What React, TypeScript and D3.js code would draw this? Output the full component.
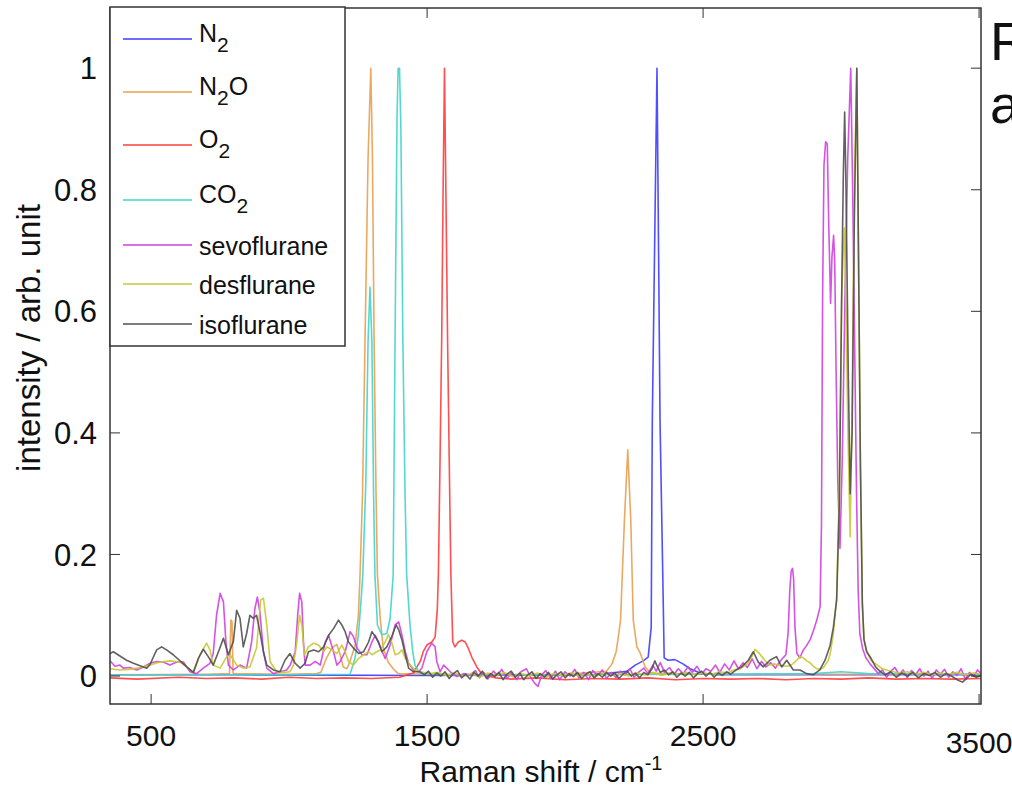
import React from "react";
import * as d3 from "d3";

type Pt = [number, number];

const X_DOMAIN: [number, number] = [351, 3507];
const Y_DOMAIN: [number, number] = [-0.046, 1.099];
const xTicks = [500, 1500, 2500, 3500];
const xTickLabels = ["500", "1500", "2500", "3500"];
const yTicks = [0, 0.2, 0.4, 0.6, 0.8, 1];
const yTickLabels = ["0", "0.2", "0.4", "0.6", "0.8", "1"];

const seriesKeys = ["N2", "N2O", "O2", "CO2", "sevoflurane", "desflurane", "isoflurane"];
// legend label parts: [main, subscript, after]
const legendParts: [string, string, string][] = [
  ["N", "2", ""],
  ["N", "2", "O"],
  ["O", "2", ""],
  ["CO", "2", ""],
  ["sevoflurane", "", ""],
  ["desflurane", "", ""],
  ["isoflurane", "", ""],
];
const seriesColors = ["#3c3cff", "#e8a050", "#ff3c3c", "#40d4cc", "#d040e0", "#c8c832", "#505050"];

const N2: Pt[] = [[351,0.002],[800,0.002],[1500,0.001],[2100,0.002],[2225,0.008],[2254,0.018],[2283,0.025],[2301,0.031],[2312,0.08],[2316,0.42],[2333,1.0],[2344,0.42],[2353,0.19],[2359,0.03],[2373,0.026],[2398,0.027],[2427,0.02],[2453,0.012],[2489,0.005],[2550,0.002],[3000,0.002],[3507,0.002]];

const N2O: Pt[] = [[351,0.002],[700,0.003],[784,0.004],[789,0.092],[793,0.09],[797,0.004],[1000,0.003],[1100,0.004],[1115,0.006],[1136,0.03],[1155,0.046],[1173,0.052],[1185,0.035],[1196,0.015],[1210,0.012],[1221,0.025],[1239,0.05],[1251,0.1],[1257,0.166],[1266,0.3],[1275,0.55],[1286,0.85],[1296,1.0],[1302,0.85],[1308,0.55],[1315,0.3],[1320,0.166],[1330,0.095],[1341,0.046],[1359,0.023],[1377,0.012],[1395,0.004],[1600,0.002],[2000,0.003],[2150,0.008],[2170,0.02],[2185,0.04],[2193,0.065],[2201,0.092],[2215,0.257],[2227,0.372],[2238,0.257],[2247,0.092],[2260,0.048],[2272,0.038],[2290,0.015],[2310,0.005],[2500,0.003],[3000,0.003],[3507,0.003]];

const O2: Pt[] = [[351,-0.003],[450,-0.005],[600,-0.002],[700,-0.004],[800,-0.003],[900,-0.005],[1000,-0.002],[1100,-0.004],[1200,-0.003],[1300,-0.004],[1400,-0.002],[1450,0.005],[1475,0.024],[1486,0.04],[1499,0.051],[1517,0.056],[1529,0.064],[1537,0.11],[1541,0.17],[1547,0.36],[1553,0.56],[1558,0.8],[1563,1.0],[1568,0.8],[1574,0.56],[1580,0.36],[1586,0.17],[1593,0.056],[1601,0.048],[1613,0.056],[1626,0.059],[1638,0.056],[1650,0.045],[1663,0.03],[1680,0.015],[1700,0.002],[1750,-0.003],[1800,-0.005],[1900,-0.003],[2000,-0.006],[2100,-0.004],[2200,-0.005],[2300,-0.003],[2400,-0.006],[2500,-0.004],[2600,-0.005],[2700,-0.004],[2800,-0.006],[2900,-0.004],[3000,-0.005],[3100,-0.003],[3200,-0.005],[3300,-0.004],[3400,-0.005],[3507,-0.004]];

const CO2: Pt[] = [[351,0.002],[700,0.002],[1000,0.002],[1221,0.003],[1239,0.03],[1251,0.068],[1260,0.12],[1267,0.166],[1278,0.32],[1286,0.55],[1293,0.64],[1300,0.55],[1306,0.3],[1311,0.166],[1320,0.084],[1336,0.068],[1354,0.07],[1366,0.095],[1377,0.166],[1384,0.56],[1391,0.92],[1395,1.0],[1400,1.0],[1405,0.9],[1412,0.56],[1420,0.3],[1426,0.166],[1438,0.084],[1448,0.04],[1456,0.018],[1475,0.004],[1600,0.002],[2000,0.002],[2500,0.003],[2900,0.004],[3000,0.007],[3100,0.004],[3507,0.003]];

const SEVO: Pt[] = [[351,0.025],[369,0.016],[387,0.018],[399,0.013],[423,0.014],[448,0.010],[472,0.015],[496,0.021],[520,0.024],[544,0.023],[568,0.018],[593,0.023],[617,0.023],[641,0.007],[665,0.004],[689,0.013],[713,0.021],[725,0.037],[737,0.1],[750,0.136],[762,0.122],[771,0.056],[780,0.018],[798,0.01],[822,0.018],[846,0.013],[864,0.056],[876,0.111],[885,0.13],[894,0.106],[907,0.04],[919,0.013],[943,0.004],[967,0.007],[991,0.01],[1004,0.018],[1022,0.04],[1031,0.1],[1038,0.136],[1046,0.122],[1052,0.056],[1058,0.018],[1076,0.018],[1095,0.024],[1113,0.018],[1131,0.056],[1143,0.067],[1161,0.04],[1173,0.018],[1185,0.024],[1203,0.04],[1221,0.073],[1233,0.065],[1246,0.046],[1264,0.035],[1282,0.035],[1300,0.056],[1312,0.067],[1330,0.048],[1348,0.029],[1366,0.051],[1384,0.084],[1397,0.089],[1409,0.067],[1421,0.04],[1433,0.021],[1451,0.01],[1469,0.007],[1481,0.013],[1499,0.04],[1517,0.054],[1529,0.048],[1535,0.024],[1547,0.007],[1560,0.018],[1584,0.007],[1608,-0.001],[1632,0.004],[1656,0.002],
[1675,0.009],[1690,-0.003],[1705,0.006],[1720,-0.005],[1740,0.008],[1755,0.001],[1770,0.011],[1790,-0.004],[1805,0.005],[1825,-0.006],[1840,0.007],[1860,0.012],[1875,-0.002],[1890,-0.012],[1902,-0.017],[1915,0.002],[1930,0.009],[1948,-0.004],[1965,0.008],[1980,-0.006],[2000,0.007],[2018,0.0],[2035,0.011],[2050,-0.003],[2068,0.006],[2085,-0.006],[2100,0.009],[2118,0.001],[2135,0.01],[2150,-0.004],[2168,0.006],[2185,-0.003],[2200,0.008],[2218,0.002],[2235,0.012],[2250,-0.002],[2268,0.007],[2285,0.013],[2300,0.004],[2318,0.018],[2330,0.008],[2345,0.022],[2360,0.006],[2378,0.014],[2395,0.003],[2410,0.012],[2428,0.004],[2445,0.015],[2460,0.006],[2478,0.016],[2495,0.003],[2510,0.012],[2528,0.008],[2545,0.018],[2560,0.006],[2578,0.02],[2595,0.01],[2612,0.025],[2628,0.012],[2645,0.022],[2660,0.014],[2678,0.028],[2695,0.012],[2712,0.024],[2728,0.015],[2745,0.022],[2762,0.013],[2778,0.024],[2790,0.03],
[2800,0.035],[2808,0.07],[2814,0.14],[2819,0.172],[2824,0.177],[2828,0.16],[2833,0.08],[2840,0.037],[2851,0.03],[2862,0.042],[2875,0.05],[2888,0.06],[2900,0.075],[2912,0.092],[2924,0.114],[2929,0.25],[2933,0.62],[2938,0.84],[2944,0.879],[2950,0.875],[2955,0.75],[2962,0.613],[2967,0.69],[2973,0.725],[2977,0.68],[2982,0.5],[2988,0.32],[2996,0.21],[3004,0.35],[3014,0.62],[3024,0.85],[3035,1.0],[3042,0.8],[3049,0.55],[3056,0.3],[3062,0.14],[3068,0.07],[3078,0.045],[3090,0.03],[3105,0.02],
[3120,0.012],[3135,0.004],[3150,0.01],[3165,-0.002],[3180,0.008],[3195,0.014],[3210,0.003],[3225,0.01],[3240,-0.003],[3255,0.009],[3270,0.002],[3285,0.012],[3300,0.0],[3315,0.008],[3330,-0.004],[3345,0.01],[3360,0.003],[3375,0.011],[3390,-0.002],[3405,0.007],[3420,0.001],[3435,0.012],[3450,-0.005],[3465,0.006],[3480,0.0],[3495,0.01],[3507,0.004]];

const DES: Pt[] = [[351,0.012],[387,0.01],[423,0.011],[460,0.014],[496,0.018],[532,0.023],[568,0.025],[605,0.023],[629,0.015],[653,0.006],[677,0.035],[701,0.054],[713,0.043],[725,0.018],[750,0.013],[774,0.032],[786,0.035],[810,0.018],[834,0.013],[858,0.015],[882,0.046],[897,0.125],[907,0.128],[919,0.084],[931,0.024],[955,0.007],[979,0.006],[1003,0.007],[1016,0.018],[1028,0.056],[1038,0.1],[1046,0.084],[1055,0.035],[1070,0.048],[1089,0.054],[1107,0.051],[1125,0.04],[1137,0.048],[1155,0.043],[1173,0.037],[1191,0.051],[1203,0.04],[1215,0.024],[1233,0.018],[1252,0.029],[1270,0.035],[1288,0.04],[1300,0.035],[1318,0.04],[1330,0.043],[1348,0.056],[1360,0.068],[1372,0.055],[1384,0.035],[1397,0.037],[1409,0.043],[1421,0.029],[1439,0.018],[1457,0.01],[1475,0.007],[1511,0.004],
[1540,0.006],[1570,0.001],[1600,0.005],[1630,0.0],[1660,0.004],[1690,-0.002],[1720,0.005],[1750,0.001],[1780,0.006],[1810,-0.001],[1840,0.004],[1870,0.0],[1900,0.005],[1930,-0.002],[1960,0.004],[1990,0.001],[2020,0.005],[2050,0.0],[2080,0.004],[2110,-0.001],[2140,0.005],[2170,0.001],[2200,0.004],[2230,0.0],[2260,0.005],[2290,0.002],[2320,0.006],[2350,0.001],[2380,0.005],[2410,0.002],[2440,0.006],[2470,0.002],[2500,0.005],[2530,0.003],[2560,0.007],[2590,0.005],[2610,0.01],[2634,0.012],[2660,0.02],[2675,0.03],[2688,0.044],[2706,0.036],[2725,0.025],[2742,0.018],[2760,0.02],[2779,0.017],[2809,0.016],[2825,0.02],[2839,0.026],[2851,0.032],[2863,0.03],[2875,0.025],[2887,0.022],[2900,0.016],[2911,0.012],[2925,0.011],[2936,0.014],[2945,0.02],[2954,0.026],[2962,0.04],[2972,0.07],[2984,0.13],[2993,0.3],[3002,0.62],[3008,0.7],[3012,0.737],[3018,0.6],[3025,0.4],[3033,0.229],[3040,0.45],[3048,0.8],[3057,1.0],[3063,0.7],[3070,0.35],[3077,0.12],[3083,0.06],[3093,0.04],[3110,0.025],[3125,0.02],[3150,0.012],[3180,0.008],[3210,0.005],[3240,0.007],[3270,0.003],[3300,0.006],[3330,0.002],[3360,0.005],[3390,0.003],[3420,0.006],[3450,0.002],[3480,0.005],[3507,0.003]];

const ISO: Pt[] = [[351,0.037],[363,0.04],[387,0.033],[411,0.026],[436,0.021],[460,0.017],[484,0.013],[496,0.019],[520,0.043],[538,0.048],[556,0.043],[580,0.035],[605,0.025],[629,0.015],[653,0.006],[671,0.029],[689,0.044],[707,0.032],[725,0.018],[744,0.04],[762,0.062],[780,0.035],[798,0.057],[810,0.108],[822,0.095],[834,0.048],[846,0.07],[858,0.1],[870,0.095],[882,0.1],[894,0.073],[907,0.04],[919,0.018],[943,0.01],[967,0.007],[985,0.026],[1003,0.037],[1022,0.021],[1040,0.013],[1058,0.021],[1070,0.04],[1089,0.043],[1107,0.04],[1125,0.048],[1143,0.067],[1161,0.078],[1179,0.092],[1191,0.084],[1203,0.073],[1215,0.056],[1233,0.046],[1252,0.037],[1270,0.04],[1288,0.056],[1300,0.073],[1312,0.065],[1324,0.056],[1336,0.04],[1354,0.048],[1372,0.065],[1388,0.084],[1397,0.076],[1409,0.059],[1421,0.035],[1433,0.013],[1451,0.007],[1475,0.007],
[1490,0.002],[1505,0.008],[1520,-0.002],[1535,0.005],[1550,0.0],[1565,0.007],[1580,-0.004],[1595,0.004],[1610,0.009],[1625,-0.003],[1640,0.003],[1655,-0.005],[1670,0.006],[1685,0.0],[1700,0.008],[1715,-0.004],[1730,0.004],[1745,-0.001],[1760,0.006],[1775,-0.006],[1790,0.003],[1805,0.008],[1820,-0.002],[1835,0.005],[1850,-0.006],[1865,0.002],[1880,0.007],[1895,-0.004],[1910,0.004],[1925,-0.002],[1940,0.006],[1955,-0.005],[1970,0.002],[1985,0.007],[2000,-0.003],[2015,0.004],[2030,-0.001],[2045,0.006],[2060,-0.004],[2075,0.003],[2090,0.007],[2105,-0.003],[2120,0.004],[2135,-0.002],[2150,0.006],[2165,0.0],[2180,0.005],[2195,-0.004],[2210,0.003],[2225,0.008],[2240,0.0],[2255,0.005],[2270,-0.003],[2285,0.006],[2300,0.002],[2315,0.012],[2325,0.025],[2335,0.015],[2345,0.006],[2360,0.01],[2375,0.002],[2390,0.007],[2405,-0.002],[2420,0.005],[2435,0.0],[2450,0.006],[2465,-0.003],[2480,0.004],[2495,0.008],[2510,0.0],[2525,0.006],[2540,-0.002],[2555,0.005],[2570,0.001],[2585,0.007],[2600,0.003],[2620,0.01],[2640,0.015],[2664,0.026],[2682,0.04],[2700,0.023],[2718,0.015],[2742,0.026],[2766,0.032],[2785,0.015],[2803,0.026],[2827,0.01],[2851,0.01],[2875,0.004],[2899,0.002],[2923,0.01],[2942,0.026],[2960,0.05],[2972,0.08],[2984,0.125],[2994,0.29],[3002,0.62],[3008,0.82],[3013,0.928],[3018,0.8],[3026,0.5],[3033,0.3],[3040,0.4],[3048,0.75],[3057,1.0],[3063,0.7],[3070,0.35],[3077,0.12],[3083,0.06],[3093,0.04],[3110,0.028],[3125,0.015],[3140,0.008],
[3160,0.002],[3180,0.007],[3200,-0.002],[3220,0.005],[3240,0.0],[3260,0.006],[3280,-0.003],[3300,0.004],[3320,0.001],[3340,0.006],[3360,-0.002],[3380,0.004],[3400,0.0],[3420,-0.006],[3440,-0.01],[3455,-0.004],[3470,0.003],[3490,-0.002],[3507,0.001]];

const seriesData: Pt[][] = [N2, N2O, O2, CO2, SEVO, DES, ISO];

const W = 1012;
const H = 789;
const L = 110, R = 981, T = 8, B = 704;
const FONT = "'Liberation Sans', Arial, Helvetica, sans-serif";

export default function App() {
  const x = d3.scaleLinear().domain(X_DOMAIN).range([L, R]);
  const y = d3.scaleLinear().domain(Y_DOMAIN).range([B, T]);
  const line = d3.line<Pt>().x((d) => x(d[0])).y((d) => y(d[1]));
  const tickLen = 10;
  const legendY = [39, 92, 145, 200, 245, 284, 324];

  return (
    <svg width={W} height={H} style={{ position: "absolute", left: 0, top: 0, background: "#fff" }} fontFamily={FONT}>
      <rect x={0} y={0} width={W} height={H} fill="#fff" />
      <defs>
        <clipPath id="plotclip">
          <rect x={L} y={T} width={R - L} height={B - T} />
        </clipPath>
      </defs>
      <g clipPath="url(#plotclip)">
        {seriesData.map((s, i) => (
          <path key={seriesKeys[i]} d={line(s) || ""} fill="none" stroke={seriesColors[i]} strokeWidth={1.6} strokeOpacity={0.9} strokeLinejoin="round" />
        ))}
      </g>
      <rect x={L} y={T} width={R - L} height={B - T} fill="none" stroke="#333" strokeWidth={1.5} />
      {yTicks.map((t) => (
        <g key={"yt" + t}>
          <line x1={L} x2={L + tickLen} y1={y(t)} y2={y(t)} stroke="#333" strokeWidth={1} />
          <line x1={R} x2={R - tickLen} y1={y(t)} y2={y(t)} stroke="#333" strokeWidth={1} />
        </g>
      ))}
      {xTicks.map((t) => (
        <g key={"xt" + t}>
          <line x1={x(t)} x2={x(t)} y1={B} y2={B - tickLen} stroke="#333" strokeWidth={1} />
          <line x1={x(t)} x2={x(t)} y1={T} y2={T + tickLen} stroke="#333" strokeWidth={1} />
        </g>
      ))}
      {yTicks.map((t, i) => (
        <text key={"yl" + t} x={97} y={y(t)} dy="0.36em" textAnchor="end" fontSize={31} fill="#111">
          {yTickLabels[i]}
        </text>
      ))}
      {xTicks.map((t, i) => (
        <text key={"xl" + t} x={x(t)} y={i === xTicks.length - 1 ? 753 : 746} textAnchor="middle" fontSize={30} fill="#111">
          {xTickLabels[i]}
        </text>
      ))}
      <text x={541} y={782} textAnchor="middle" fontSize={30} fill="#111">
        Raman shift / cm<tspan fontSize={20} dy={-12}>-1</tspan>
      </text>
      <text transform="translate(40,338) rotate(-90)" textAnchor="middle" fontSize={33} fill="#111">
        intensity / arb. unit
      </text>
      <rect x={L} y={7} width={235} height={339} fill="#fff" stroke="#333" strokeWidth={1.5} />
      {legendParts.map((p, i) => {
        const ly = legendY[i];
        const hasSub = p[1] !== "";
        return (
          <g key={"lg" + i}>
            <line x1={123} x2={192} y1={ly} y2={ly} stroke={seriesColors[i]} strokeWidth={1.6} />
            <text x={199} y={hasSub ? ly + 3 : ly + 10} fontSize={25} fill="#111">
              {p[0]}
              {hasSub && <tspan fontSize={21} dy={10}>{p[1]}</tspan>}
              {p[2] && <tspan fontSize={25} dy={-10}>{p[2]}</tspan>}
            </text>
          </g>
        );
      })}
      <text x={990} y={60} fontSize={54} fill="#111">R</text>
      <text x={990} y={123} fontSize={54} fill="#111">a</text>
    </svg>
  );
}
